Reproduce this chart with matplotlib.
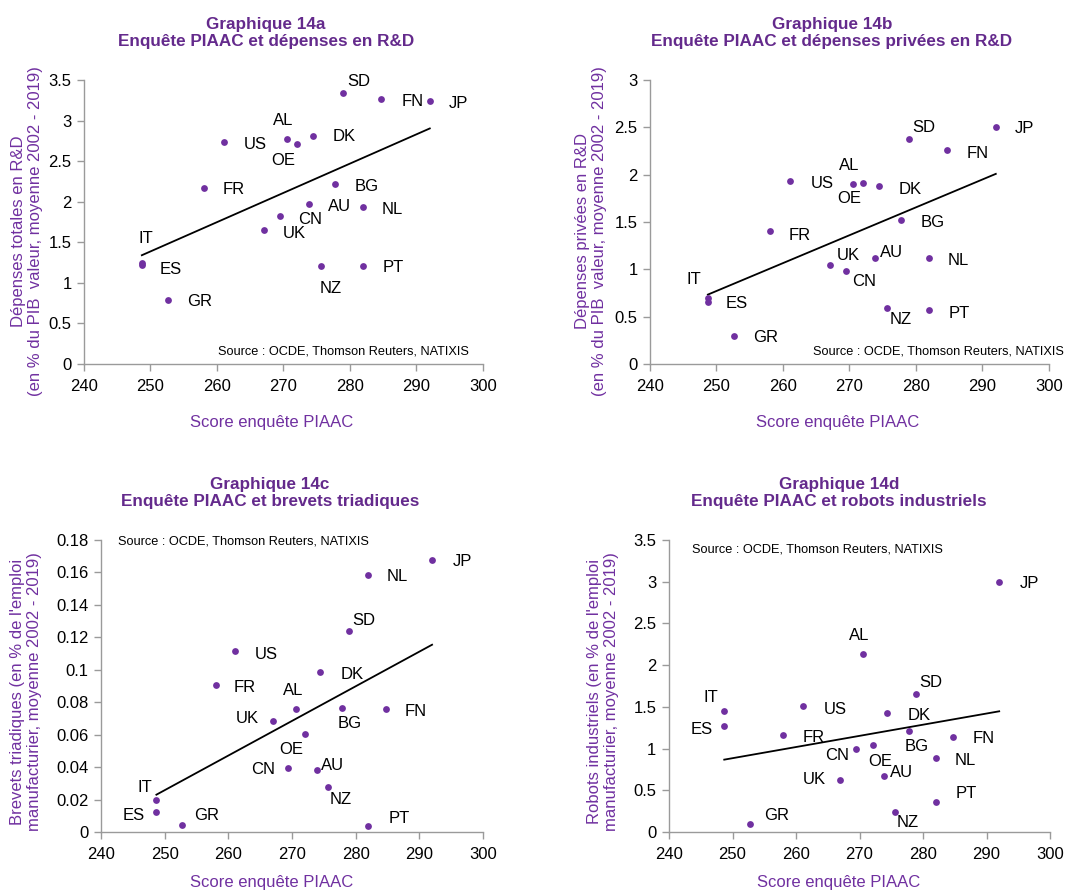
import numpy as np
import matplotlib
matplotlib.use("Agg")
import matplotlib.pyplot as plt
from matplotlib.ticker import FuncFormatter, MultipleLocator

plt.rcParams['font.family'] = ['Liberation Sans', 'DejaVu Sans']

# ---------------- data ----------------
countries = ["IT", "ES", "GR", "FR", "US", "UK", "CN", "AL", "OE", "DK",
             "AU", "NZ", "BG", "SD", "NL", "PT", "FN", "JP"]
piaac = [248.7, 248.7, 252.7, 258.0, 261.1, 267.0, 269.4, 270.6, 272.1, 274.4,
         273.9, 275.6, 277.8, 278.9, 282.0, 282.0, 284.7, 292.0]

rd_total = [1.25, 1.22, 0.79, 2.17, 2.73, 1.65, 1.83, 2.77, 2.71, 2.81,
            1.97, 1.21, 2.22, 3.34, 1.93, 1.21, 3.26, 3.24]
rd_private = [0.70, 0.66, 0.30, 1.40, 1.93, 1.05, 0.98, 1.90, 1.91, 1.88,
              1.12, 0.59, 1.52, 2.38, 1.12, 0.57, 2.26, 2.50]
patents = [0.0195, 0.0125, 0.0045, 0.0905, 0.1115, 0.0686, 0.0394, 0.0756, 0.0606, 0.0986,
           0.0384, 0.0275, 0.0766, 0.1236, 0.1587, 0.0035, 0.0756, 0.1678]
robots = [1.45, 1.27, 0.09, 1.16, 1.51, 0.62, 1.00, 2.13, 1.04, 1.43,
          0.67, 0.24, 1.21, 1.66, 0.89, 0.36, 1.14, 3.00]

titles = ["Graphique 14a\nEnquête PIAAC et dépenses en R&D",
          "Graphique 14b\nEnquête PIAAC et dépenses privées en R&D",
          "Graphique 14c\nEnquête PIAAC et brevets triadiques",
          "Graphique 14d\nEnquête PIAAC et robots industriels"]
ylabels = ["Dépenses totales en R&D\n(en % du PIB  valeur, moyenne 2002 - 2019)",
           "Dépenses privées en R&D\n(en % du PIB  valeur, moyenne 2002 - 2019)",
           "Brevets triadiques (en % de l'emploi\nmanufacturier, moyenne 2002 - 2019)",
           "Robots industriels (en % de l'emploi\nmanufacturier, moyenne 2002 - 2019)"]
xlabel = "Score enquête PIAAC"
source = "Source : OCDE, Thomson Reuters, NATIXIS"
x_ticks = [240, 250, 260, 270, 280, 290, 300]
y_limits = [(0, 3.5, 0.5), (0, 3.0, 0.5), (0, 0.18, 0.02), (0, 3.5, 0.5)]

# label offsets (pixels) per chart
offs_a = {"SD": (16, 11), "FN": (31, -2), "JP": (29, -2), "AL": (-4, 19), "US": (31, -2),
          "OE": (-14, -16), "DK": (31, -1), "FR": (30, -2), "BG": (31, -3), "AU": (30, -2),
          "NL": (29, -2), "CN": (31, -4), "UK": (31, -3), "IT": (4, 24), "ES": (29, -4),
          "GR": (31, -2), "NZ": (10, -23), "PT": (30, -2)}
offs_b = {"SD": (15, 11), "JP": (29, -1), "FN": (30, -3), "AL": (-4, 19), "US": (32, -2),
          "OE": (-14, -15), "DK": (31, -3), "BG": (31, -2), "FR": (30, -4), "UK": (19, 9),
          "AU": (16, 5), "NL": (29, -3), "CN": (19, -10), "IT": (-14, 18), "ES": (29, -2),
          "NZ": (14, -11), "PT": (30, -3), "GR": (31, -2)}
offs_c = {"JP": (30, -2), "NL": (29, -2), "SD": (15, 11), "US": (31, -3), "DK": (32, -2),
          "FR": (29, -2), "AL": (-3, 19), "BG": (8, -16), "FN": (30, -2), "UK": (-26, 2),
          "OE": (-14, -16), "CN": (-25, -1), "AU": (16, 4), "NZ": (13, -12), "IT": (-12, 13),
          "ES": (-23, -4), "GR": (25, 9), "PT": (31, 8)}
offs_d = {"JP": (30, -2), "AL": (-4, 19), "SD": (15, 11), "IT": (-13, 14), "US": (32, -3),
          "DK": (32, -3), "ES": (-23, -3), "FR": (30, -2), "BG": (8, -15), "FN": (31, -2),
          "CN": (-19, -7), "OE": (7, -16), "NL": (30, -3), "AU": (17, 4), "UK": (-26, 1),
          "PT": (31, 8), "NZ": (13, -11), "GR": (27, 9)}

series = [rd_total, rd_private, patents, robots]
offsets = [offs_a, offs_b, offs_c, offs_d]

# ---------------- layout (pixels) ----------------
W, H = 1092, 891
fig = plt.figure(figsize=(W / 100, H / 100), dpi=100)

# axes boxes: left, right, top, bottom in pixels
boxes = [(84, 483, 80, 364), (650, 1049, 80, 364), (101, 483, 540, 832), (669, 1050, 540, 832)]
title_pos = [(266, 33), (832, 33), (270, 493), (839, 493)]
xlabel_pos = [(272, 422), (838, 422), (272, 883), (839, 883)]
ylabel_pos = [(27, 231), (591, 231), (26, 692), (603, 692)]
source_pos = [(218, 351), (813, 352), (118, 542), (692, 549)]

PURPLE = "#7030A0"
TITLE_PURPLE = "#642A8C"
GRAY = "#9A9A9A"

def fx(px):
    return px / W

def fy(py):
    return 1 - py / H

for i in range(4):
    l, r, t, b = boxes[i]
    ax = fig.add_axes([fx(l), fy(b), (r - l) / W, (b - t) / H])
    y = np.array(series[i])
    x = np.array(piaac)
    ax.scatter(x, y, s=24, color=PURPLE, zorder=3, linewidths=0)
    # linear trend
    k, c0 = np.polyfit(x, y, 1)
    xs = np.array([x.min(), x.max()])
    ax.plot(xs, k * xs + c0, color="black", lw=1.3, zorder=2)
    for name, xv, yv in zip(countries, x, y):
        dx, dy = offsets[i][name]
        ax.annotate(name, (xv, yv), xytext=(dx, dy), textcoords="offset pixels",
                    ha="center", va="center", fontsize=12, color="black")
    ax.set_xlim(240, 300)
    y0, y1, step = y_limits[i]
    ax.set_ylim(y0, y1)
    ax.set_xticks(x_ticks)
    ax.yaxis.set_major_locator(MultipleLocator(step))
    ax.yaxis.set_major_formatter(FuncFormatter(lambda v, p: ("%.2f" % v).rstrip("0").rstrip(".")))
    for s in ["top", "right"]:
        ax.spines[s].set_visible(False)
    for s in ["left", "bottom"]:
        ax.spines[s].set_color(GRAY)
        ax.spines[s].set_linewidth(1.0)
    ax.tick_params(axis="both", direction="out", length=5, width=1.0, color=GRAY,
                   labelsize=12, labelcolor="black")
    ax.tick_params(axis="y", pad=4)
    ax.tick_params(axis="x", pad=6)
    ax.set_facecolor("none")
    ax.margins(0)

    tx, ty = title_pos[i]
    fig.text(fx(tx), fy(ty), titles[i], ha="center", va="center", fontsize=12.3,
             fontweight="bold", color=TITLE_PURPLE, linespacing=1.15)
    lx, ly = xlabel_pos[i]
    fig.text(fx(lx), fy(ly), xlabel, ha="center", va="center", fontsize=12, color=PURPLE)
    yx, yy = ylabel_pos[i]
    fig.text(fx(yx), fy(yy), ylabels[i], ha="center", va="center", fontsize=12,
             color=PURPLE, rotation=90, linespacing=1.15)
    sx, sy = source_pos[i]
    fig.text(fx(sx), fy(sy), source, ha="left", va="center", fontsize=9.2, color="black")

fig.savefig("out.png", dpi=100, facecolor="white")
